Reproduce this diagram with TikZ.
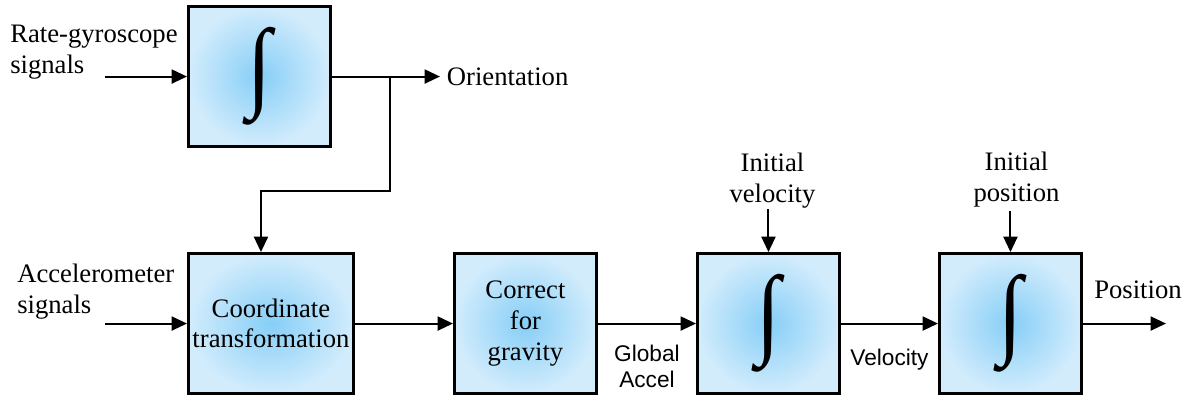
\documentclass[tikz,border=0pt]{standalone}
\usepackage{fontspec}
\setmainfont{Liberation Serif}
\setsansfont{Liberation Sans}
\usepackage{graphicx}
\usetikzlibrary{arrows.meta, positioning, calc}
\definecolor{bleucentre}{HTML}{86CEF7}
\definecolor{bleubord}{HTML}{D2ECFC}
\newcommand{\integrale}{\resizebox*{18pt}{73.5pt}{∫}}
\tikzset{
  bloc/.style={rectangle, draw=black, line width=2.25pt, inner color=bleucentre,
    outer color=bleubord, minimum width=106.5pt, minimum height=105pt,
    font=\fontsize{20}{23}\selectfont, align=center, inner sep=1pt},
  fleche/.style={-{Triangle[length=11.5pt, width=10.5pt]}, line width=1.5pt},
  etiquette/.style={font=\fontsize{20}{23}\selectfont, align=center, inner sep=0pt},
  etiquettesans/.style={font=\sffamily\fontsize{17}{19.5}\selectfont, align=center,
    inner sep=0pt}
}

\begin{document}
\begin{tikzpicture}
    \useasboundingbox (0,0) rectangle (890.25pt,-297pt);

    \node[bloc] (gyro) at (194.6pt,-57.4pt) {\integrale};
    \node[bloc, minimum width=123.75pt, below=78pt of gyro.south west, anchor=north west] (transf) {Coordinate\\ transformation};
    \node[bloc, right=73.5pt of transf] (grav) {Correct\\ for\\ gravity};
    \node[bloc, right=73.5pt of grav] (vit) {\integrale};
    \node[bloc, right=72.75pt of vit] (pos) {\integrale};

    % entrees
    \coordinate[left=61.5pt of gyro.west] (gyroin);
    \coordinate[left=61.5pt of transf.west] (accin);
    \node[etiquette, align=left, anchor=base west] (gyrolbl) at (7.5pt,-54.75pt) {Rate-gyroscope\\ signals};
    \node[etiquette, align=left, anchor=base west] (acclbl) at (12.75pt,-234.75pt) {Accelerometer\\ signals};
    \draw[fleche] (gyroin) -- (gyro);
    \draw[fleche] (accin) -- (transf);

    % orientation et retour vers la transformation
    \coordinate[right=81pt of gyro.east] (orient);
    \node[etiquette, right=5pt of orient] (orientlbl) {Orientation};
    \draw[fleche] (gyro) -- (orient);
    \coordinate[right=43.5pt of gyro.east] (branche);
    \coordinate (coude) at ($(transf.north)+(-7.5pt,45.75pt)$);
    \draw[fleche] (branche) |- (coude) -- (coude |- transf.north);

    % chaine principale
    \draw[fleche] (transf) -- (grav);
    \draw[fleche] (grav) -- (vit);
    \draw[fleche] (vit) -- (pos);
    \coordinate[right=62.25pt of pos.east] (sortie);
    \draw[fleche] (pos) -- (sortie);

    \node[etiquettesans, anchor=base] (accellbl) at ($(grav.east)!0.5!(vit.west)+(0,-48pt)$) {Global\\ Accel};
    \node[etiquettesans, anchor=base] (vitlbl) at ($(vit.east)!0.5!(pos.west)+(0,-31.5pt)$) {Velocity};
    \node[etiquette, anchor=base west] (poslbl) at ($(pos.east)+(8.25pt,19.1pt)$) {Position};

    % conditions initiales
    \coordinate[above=32pt of vit.north] (vitin);
    \coordinate[above=31pt of pos.north] (posin);
    \draw[fleche] (vitin) -- (vit);
    \draw[fleche] (posin) -- (pos);
    \node[etiquette, anchor=base] (vitinlbl) at ($(vit.north)+(3pt,37.5pt)$) {Initial\\ velocity};
    \node[etiquette, anchor=base] (posinlbl) at ($(pos.north)+(4.5pt,38.25pt)$) {Initial\\ position};
\end{tikzpicture}
\end{document}
